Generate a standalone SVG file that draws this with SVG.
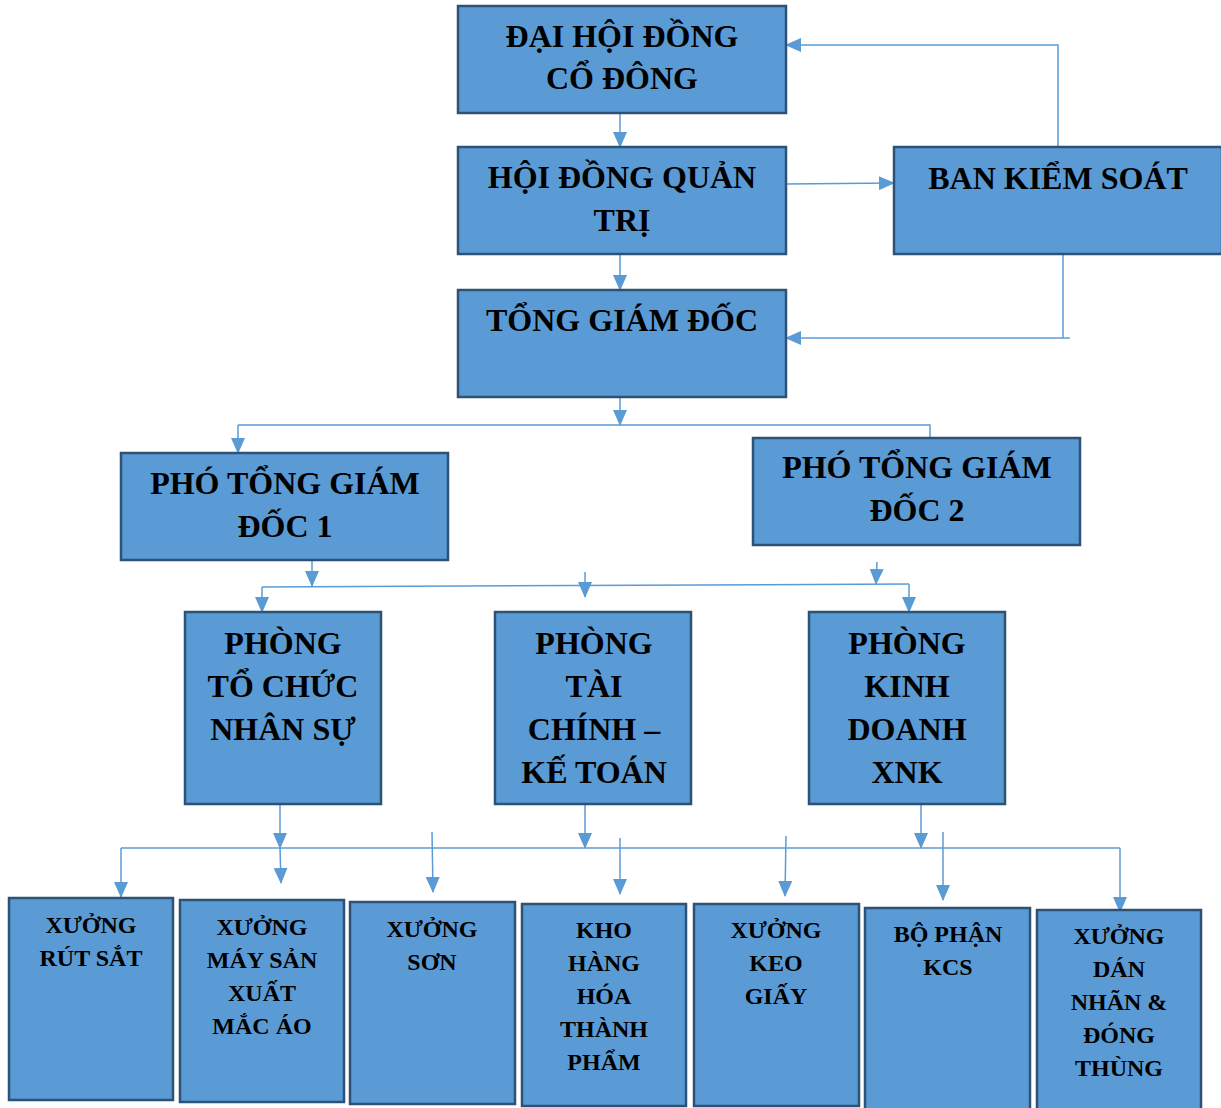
<svg xmlns="http://www.w3.org/2000/svg" width="1221" height="1108" viewBox="0 0 1221 1108">
<defs>
<marker id="ah" markerUnits="userSpaceOnUse" markerWidth="16" markerHeight="14" refX="15" refY="7" orient="auto">
<path d="M0,0 L16,7 L0,14 Z" fill="#5B9BD5"/>
</marker>
<style>
.box{fill:#5B9BD5;stroke:#2D5275;stroke-width:2.5}
.t{font-family:"Liberation Serif","Times New Roman",serif;font-weight:bold;font-size:32px;fill:#000;text-anchor:middle}
.s{font-family:"Liberation Serif","Times New Roman",serif;font-weight:bold;font-size:24px;fill:#000;text-anchor:middle}
.c{fill:none;stroke:#5B9BD5;stroke-width:1.5}
.ca{fill:none;stroke:#5B9BD5;stroke-width:1.5;marker-end:url(#ah)}
</style>
</defs>
<rect width="1221" height="1108" fill="#fff"/>
<g id="connectors">
<path class="ca" d="M620,113 V147"/>
<path class="ca" d="M786,184 L894,183"/>
<path class="ca" d="M1058,147 V45 H786"/>
<path class="c" d="M1063,254 V338"/>
<path class="ca" d="M1070,338 H786"/>
<path class="ca" d="M620,254 V290"/>
<path class="ca" d="M620,397 V425"/>
<path class="c" d="M238,425 H930 V438"/>
<path class="ca" d="M238,425 V453"/>
<path class="ca" d="M312,560 V586"/>
<path class="c" d="M262,587 L909,584"/>
<path class="ca" d="M262,587 V612"/>
<path class="ca" d="M585,572 V597"/>
<path class="ca" d="M877,562 L876,584"/>
<path class="ca" d="M909,584 V612"/>
<path class="c" d="M121,848 H1120"/>
<path class="ca" d="M280,804 V848"/>
<path class="ca" d="M280,848 L281,883"/>
<path class="ca" d="M121,848 V897"/>
<path class="ca" d="M432,832 L433,892"/>
<path class="ca" d="M585,804 V848"/>
<path class="ca" d="M620,838 V894"/>
<path class="ca" d="M786,836 L785,896"/>
<path class="ca" d="M921,804 V848"/>
<path class="ca" d="M943,832 V900"/>
<path class="ca" d="M1120,848 V912"/>
</g>
<g id="n1"><rect class="box" x="458" y="6" width="328" height="107"/><text class="t" x="622" y="47">ĐẠI HỘI ĐỒNG</text><text class="t" x="622" y="89">CỔ ĐÔNG</text></g>
<g id="n2"><rect class="box" x="458" y="147" width="328" height="107"/><text class="t" x="622" y="188">HỘI ĐỒNG QUẢN</text><text class="t" x="622" y="231">TRỊ</text></g>
<g id="n3"><rect class="box" x="894" y="147" width="328" height="107"/><text class="t" x="1058" y="189">BAN KIỂM SOÁT</text></g>
<g id="n4"><rect class="box" x="458" y="290" width="328" height="107"/><text class="t" x="622" y="331">TỔNG GIÁM ĐỐC</text></g>
<g id="n5"><rect class="box" x="121" y="453" width="327" height="107"/><text class="t" x="285" y="494">PHÓ TỔNG GIÁM</text><text class="t" x="285" y="537">ĐỐC 1</text></g>
<g id="n6"><rect class="box" x="753" y="438" width="327" height="107"/><text class="t" x="917" y="478">PHÓ TỔNG GIÁM</text><text class="t" x="917" y="521">ĐỐC 2</text></g>
<g id="n7"><rect class="box" x="185" y="612" width="196" height="192"/><text class="t" x="283" y="654">PHÒNG</text><text class="t" x="283" y="697">TỔ CHỨC</text><text class="t" x="283" y="740">NHÂN SỰ</text></g>
<g id="n8"><rect class="box" x="495" y="612" width="196" height="192"/><text class="t" x="594" y="654">PHÒNG</text><text class="t" x="594" y="697">TÀI</text><text class="t" x="594" y="740">CHÍNH –</text><text class="t" x="594" y="783">KẾ TOÁN</text></g>
<g id="n9"><rect class="box" x="809" y="612" width="196" height="192"/><text class="t" x="907" y="654">PHÒNG</text><text class="t" x="907" y="697">KINH</text><text class="t" x="907" y="740">DOANH</text><text class="t" x="907" y="783">XNK</text></g>
<g id="n10"><rect class="box" x="9" y="898" width="164" height="202"/><text class="s" x="91" y="933">XƯỞNG</text><text class="s" x="91" y="966">RÚT SẮT</text></g>
<g id="n11"><rect class="box" x="180" y="900" width="164" height="202"/><text class="s" x="262" y="935">XƯỞNG</text><text class="s" x="262" y="968">MÁY SẢN</text><text class="s" x="262" y="1001">XUẤT</text><text class="s" x="262" y="1034">MẮC ÁO</text></g>
<g id="n12"><rect class="box" x="350" y="902" width="165" height="202"/><text class="s" x="432" y="937">XƯỞNG</text><text class="s" x="432" y="970">SƠN</text></g>
<g id="n13"><rect class="box" x="522" y="904" width="164" height="202"/><text class="s" x="604" y="938">KHO</text><text class="s" x="604" y="971">HÀNG</text><text class="s" x="604" y="1004">HÓA</text><text class="s" x="604" y="1037">THÀNH</text><text class="s" x="604" y="1070">PHẨM</text></g>
<g id="n14"><rect class="box" x="694" y="904" width="165" height="202"/><text class="s" x="776" y="938">XƯỞNG</text><text class="s" x="776" y="971">KEO</text><text class="s" x="776" y="1004">GIẤY</text></g>
<g id="n15"><rect class="box" x="865" y="908" width="165" height="205"/><text class="s" x="948" y="942">BỘ PHẬN</text><text class="s" x="948" y="975">KCS</text></g>
<g id="n16"><rect class="box" x="1037" y="910" width="164" height="205"/><text class="s" x="1119" y="944">XƯỞNG</text><text class="s" x="1119" y="977">DÁN</text><text class="s" x="1119" y="1010">NHÃN &amp;</text><text class="s" x="1119" y="1043">ĐÓNG</text><text class="s" x="1119" y="1076">THÙNG</text></g>
</svg>
